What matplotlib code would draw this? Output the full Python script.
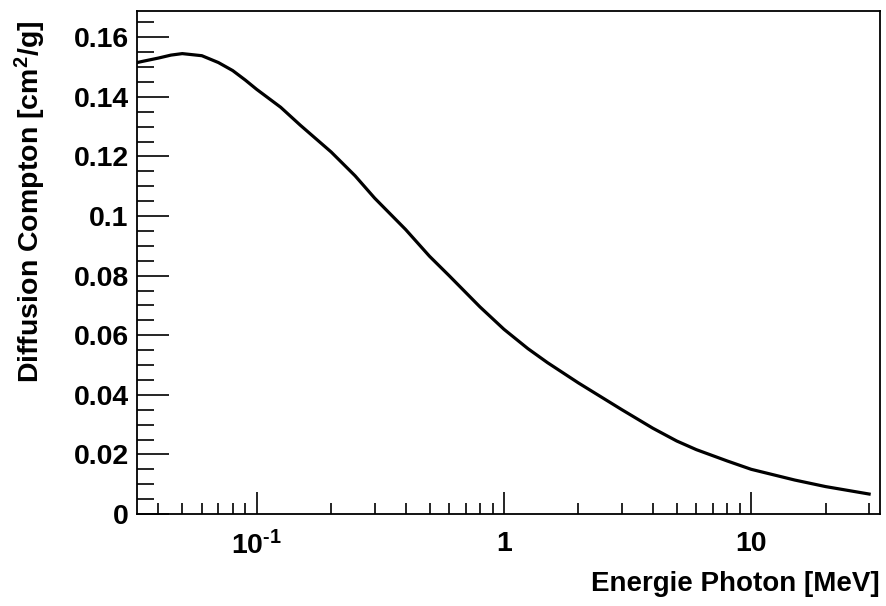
import matplotlib
matplotlib.use("Agg")
import matplotlib.pyplot as plt
import numpy as np
from matplotlib.ticker import FixedLocator, FixedFormatter, MultipleLocator

plt.rcParams['font.family'] = ['Liberation Sans', 'DejaVu Sans']
plt.rcParams['font.weight'] = 'bold'
plt.rcParams['mathtext.fontset'] = 'custom'
plt.rcParams['mathtext.rm'] = 'Liberation Sans:bold'
plt.rcParams['mathtext.bf'] = 'Liberation Sans:bold'
plt.rcParams['mathtext.default'] = 'bf'

# photon energy [MeV] and Compton cross section [cm2/g]
energy = [0.03, 0.035, 0.04, 0.045, 0.05, 0.06, 0.07, 0.08, 0.09, 0.1, 0.125,
          0.15, 0.2, 0.25, 0.3, 0.4, 0.5, 0.6, 0.8, 1.0, 1.25, 1.5, 2.0, 3.0,
          4.0, 5.0, 6.0, 8.0, 10, 15, 20, 30]
compton = [0.1508, 0.1520, 0.1530, 0.1540, 0.1545, 0.1538, 0.1515, 0.1488,
           0.1456, 0.1425, 0.1365, 0.1305, 0.1215, 0.1135, 0.1060, 0.0955,
           0.0865, 0.0800, 0.0695, 0.0620, 0.0555, 0.0508, 0.0440, 0.0350,
           0.0288, 0.0245, 0.0216, 0.0178, 0.0150, 0.0114, 0.0092, 0.0067]

xticks = [0.1, 1, 10]
xticklabels = [r'$10^{\text{-}1}$', '1', '10']
yticks = [0, 0.02, 0.04, 0.06, 0.08, 0.1, 0.12, 0.14, 0.16]
yticklabels = ['0', '0.02', '0.04', '0.06', '0.08', '0.1', '0.12', '0.14', '0.16']

fig = plt.figure(figsize=(8.87, 6.06), dpi=100)
ax = fig.add_axes([137/887, 1-514/606, (880-137)/887, (514-11)/606])

ax.plot(energy, compton, color='black', lw=2.3)
ax.set_xscale('log')
ax.set_xlim(0.0328, 33.2)
ax.set_ylim(0, 0.1688)

ax.xaxis.set_major_locator(FixedLocator(xticks))
ax.xaxis.set_major_formatter(FixedFormatter(xticklabels))
minors = [m * 10.0**d for d in (-2, -1, 0, 1) for m in range(2, 10)]
ax.xaxis.set_minor_locator(FixedLocator(minors))
ax.xaxis.set_minor_formatter(FixedFormatter([''] * len(minors)))

ax.yaxis.set_major_locator(FixedLocator(yticks))
ax.yaxis.set_major_formatter(FixedFormatter(yticklabels))
ax.yaxis.set_minor_locator(MultipleLocator(0.005))

ax.tick_params(which='both', direction='in', top=False, right=False,
               labelsize=20.5, width=1.2, color='black')
ax.tick_params(axis='x', which='major', length=16, pad=12)
ax.tick_params(axis='x', which='minor', length=8)
ax.tick_params(axis='y', which='major', length=23, pad=6)
ax.tick_params(axis='y', which='minor', length=12)
for s in ax.spines.values():
    s.set_linewidth(1.3)

for lab in ax.get_xticklabels() + ax.get_yticklabels():
    lab.set_fontweight('bold')

ax.set_xlabel('Energie Photon [MeV]', fontsize=20, fontweight='bold',
              loc='right', labelpad=8)
ax.set_ylabel(r'Diffusion Compton [cm$^{2}$/g]', fontsize=20.5,
              fontweight='bold', loc='top')
ax.yaxis.set_label_coords(-0.143, 0.98)
ax.yaxis.label.set_verticalalignment('center')

fig.savefig('out.png', dpi=100)
